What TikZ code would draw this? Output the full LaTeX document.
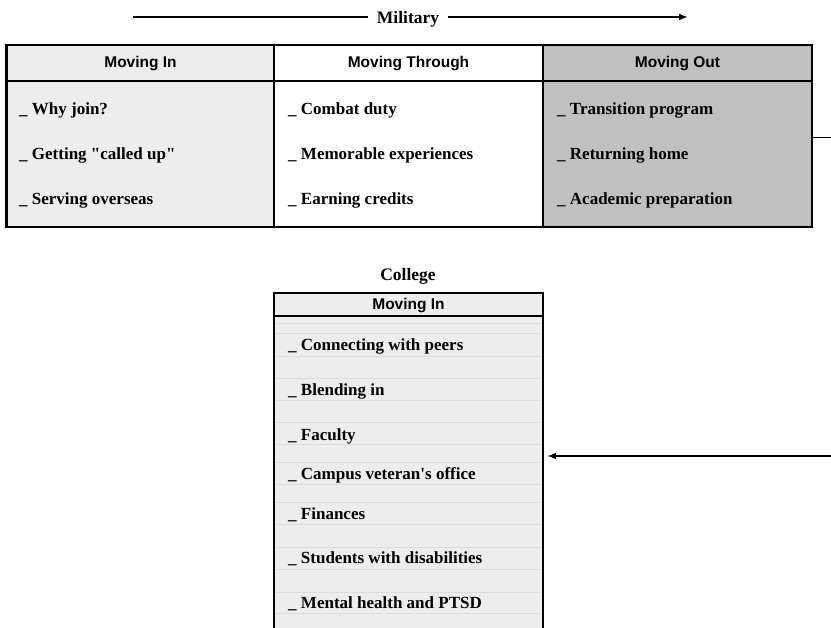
\documentclass[tikz,border=0pt]{standalone}
\usepackage{fontspec}
\setmainfont[Ligatures=TeXOff]{Liberation Serif}
\newfontfamily\headfont{Liberation Sans}
\usetikzlibrary{arrows.meta}
\definecolor{inGray}{HTML}{EDEDED}
\definecolor{outGray}{HTML}{C0C0C0}
\definecolor{rowGray}{HTML}{DCDCDC}
\tikzset{
  itemtext/.style={anchor=west,inner sep=0pt,font=\fontsize{17bp}{19bp}\selectfont\bfseries},
  headtext/.style={inner sep=0pt,font=\headfont\fontsize{15.5bp}{17bp}\selectfont\bfseries},
  titletext/.style={inner xsep=9bp,inner ysep=0pt,font=\fontsize{17.5bp}{19bp}\selectfont\bfseries},
  colbox/.style={draw,line width=1.8bp,minimum width=#1,minimum height=182bp,inner sep=0pt},
  tip/.style={-{Latex[length=9bp,width=7bp]}}
}

\begin{document}
\begin{tikzpicture}[x=1bp,y=-1bp]
\useasboundingbox (0,0) rectangle (831,628);

% Military
\node[titletext] (mil) at (408,19) {Military};
\coordinate (milL) at (133,17);
\coordinate (milR) at (688,17);
\draw[line width=1.8bp] (milL) -- (mil.west |- milL);
\draw[line width=1.8bp,tip] (mil.east |- milR) -- (milR);

% top table
\node[colbox=267bp,fill=inGray] (colIn) at (140.5,136) {};
\node[colbox=269bp,fill=white] (colThr) at (408.5,136) {};
\node[colbox=269bp,fill=outGray] (colOut) at (677.5,136) {};
\draw[line width=2.8bp] (6,45) rectangle (812,227);
\draw[line width=2.6bp] (6,81) -- (812,81);

\node[headtext] (hIn) at (140.5,64) {Moving In};
\node[headtext] (hThr) at (408.5,64) {Moving Through};
\node[headtext] (hOut) at (677.5,64) {Moving Out};

\node[itemtext] (in1) at (19,110) {\_ Why join?};
\node[itemtext] (in2) at (19,155) {\_ Getting "called up"};
\node[itemtext] (in3) at (19,200) {\_ Serving overseas};
\node[itemtext] (thr1) at (288,110) {\_ Combat duty};
\node[itemtext] (thr2) at (288,155) {\_ Memorable experiences};
\node[itemtext] (thr3) at (288,200) {\_ Earning credits};
\node[itemtext] (out1) at (557,110) {\_ Transition program};
\node[itemtext] (out2) at (557,155) {\_ Returning home};
\node[itemtext] (out3) at (557,200) {\_ Academic preparation};

% College
\node[titletext] (col) at (408,276) {College};
\fill[inGray] (274,293) rectangle (543,628);
\foreach \y in {323,333,356,378,400,422,444,462,484,502,524,547,569,592,613}
  \draw[rowGray,line width=0.6bp] (276,\y) -- (541,\y);
\draw[line width=2.2bp] (274,628) -- (274,293) -- (543,293) -- (543,628);
\draw[line width=2.4bp] (274,316) -- (543,316);
\node[headtext] (cIn) at (408.5,306) {Moving In};
\coordinate (cBox) at (543,456);

\node[itemtext] (c1) at (288,346) {\_ Connecting with peers};
\node[itemtext] (c2) at (288,391) {\_ Blending in};
\node[itemtext] (c3) at (288,436) {\_ Faculty};
\node[itemtext] (c4) at (288,475) {\_ Campus veteran's office};
\node[itemtext] (c5) at (288,515) {\_ Finances};
\node[itemtext] (c6) at (288,559) {\_ Students with disabilities};
\node[itemtext] (c7) at (288,604) {\_ Mental health and PTSD};

% connectors off the right edge
\coordinate (outEnd) at (831,138);
\coordinate (backEnd) at (831,456);
\draw[line width=1bp] (colOut.east |- outEnd) -- (outEnd);
\draw[line width=2bp,tip,shorten >=4bp] (backEnd) -- (cBox);
\end{tikzpicture}
\end{document}
